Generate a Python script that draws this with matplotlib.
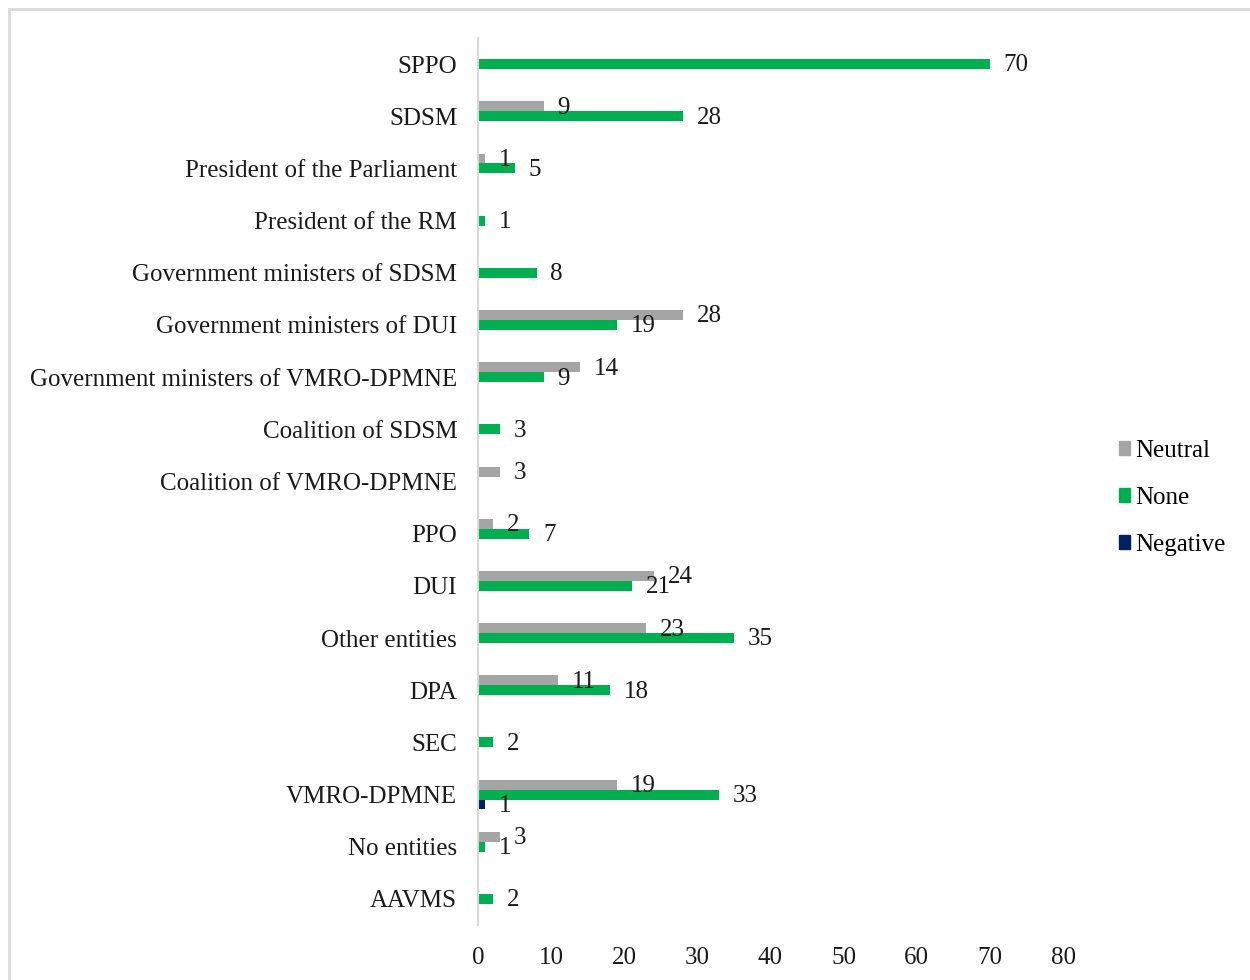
import matplotlib
matplotlib.use("Agg")
import matplotlib.pyplot as plt
from matplotlib.patches import Patch, Rectangle
import numpy as np

plt.rcParams['font.family'] = ['Liberation Serif', 'DejaVu Serif']

categories = ["SPPO", "SDSM", "President of the Parliament", "President of the RM",
              "Government ministers of SDSM", "Government ministers of DUI",
              "Government ministers of VMRO-DPMNE", "Coalition of SDSM",
              "Coalition of VMRO-DPMNE", "PPO", "DUI", "Other entities", "DPA",
              "SEC", "VMRO-DPMNE", "No entities", "AAVMS"]
neutral = [0, 9, 1, 0, 0, 28, 14, 0, 3, 2, 24, 23, 11, 0, 19, 3, 0]
none_ = [70, 28, 5, 1, 8, 19, 9, 3, 0, 7, 21, 35, 18, 2, 33, 1, 2]
negative = [0, 0, 0, 0, 0, 0, 0, 0, 0, 0, 0, 0, 0, 0, 1, 0, 0]
xticks = [0, 10, 20, 30, 40, 50, 60, 70, 80]

series = [("Neutral", neutral, "#A5A5A5", -0.19),
          ("None", none_, "#00B050", 0.0),
          ("Negative", negative, "#002060", 0.19)]

FS = 18
TC = "#1a1a1a"
fig = plt.figure(figsize=(12.5, 9.8), dpi=100)
fig.patches.append(Rectangle((9/1250, -0.01), 1.2, 1 - 9/980 + 0.01, transform=fig.transFigure,
                             fill=False, edgecolor="#D9D9D9", linewidth=2))
ax = fig.add_axes([478/1250, 1 - 925/980, (1063 - 478)/1250, (925 - 38)/980])

y = np.arange(len(categories))
bh = 0.19
for name, vals, color, off in series:
    ax.barh(y + off, vals, height=bh, color=color, label=name)
    for yi, v in zip(y, vals):
        if v:
            ax.annotate(str(v), xy=(v, yi + off), xytext=(10, -1), textcoords="offset points",
                        ha="left", va="center", fontsize=FS, color=TC)

ax.set_ylim(len(categories) - 0.5, -0.5)
ax.set_xlim(0, 80)
ax.set_xticks(xticks)
ax.set_yticks(y)
ax.set_yticklabels(categories, fontsize=FS, color=TC)
ax.tick_params(axis="x", length=0, pad=16, labelsize=FS, labelcolor=TC)
ax.tick_params(axis="y", length=0, pad=15)
for s in ["top", "right", "bottom"]:
    ax.spines[s].set_visible(False)
ax.spines["left"].set_color("#D9D9D9")
ax.spines["left"].set_linewidth(1.5)

handles = [Patch(color=c, label=n) for n, _, c, _ in series]
fig.legend(handles=handles, loc="center left", bbox_to_anchor=(1106/1250, 1 - 498/980),
           frameon=False, fontsize=FS, handlelength=0.45, handleheight=0.45,
           handletextpad=0.2, labelspacing=1.0, borderpad=0)

fig.savefig("out.png", dpi=100)
